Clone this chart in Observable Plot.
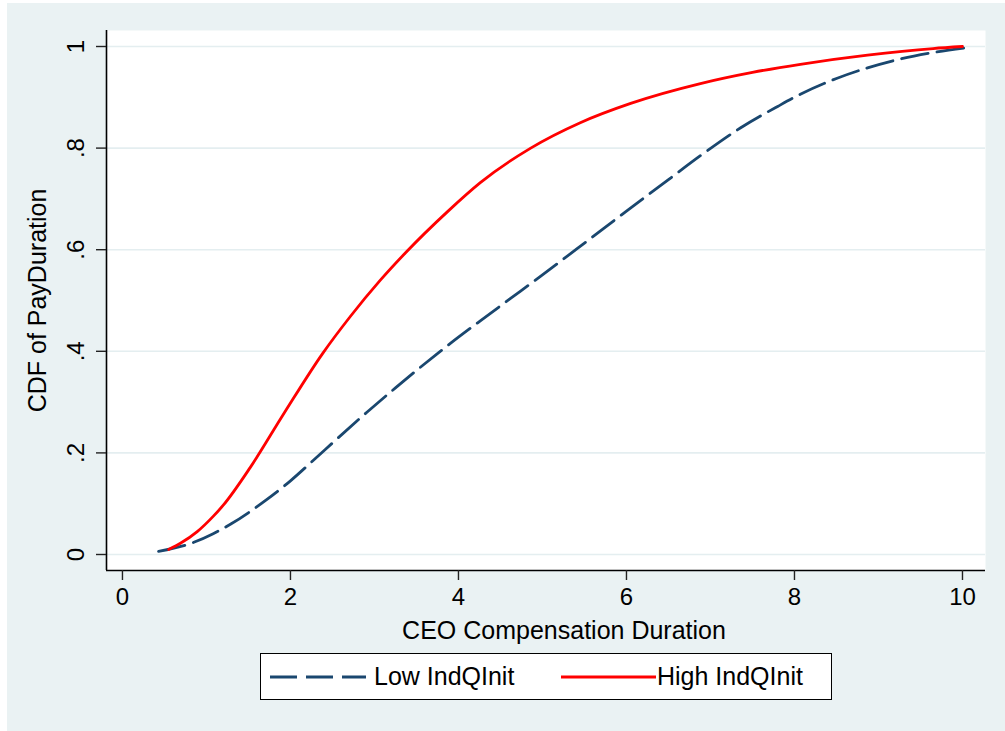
<!DOCTYPE html>
<html><head><meta charset="utf-8">
<script src="https://cdn.jsdelivr.net/npm/d3@7"></script>
<script src="https://cdn.jsdelivr.net/npm/@observablehq/plot@0.6"></script>
<style>
html,body{margin:0;padding:0;background:#fff;}
#wrap{position:relative;width:1005px;height:731px;overflow:hidden;font-family:"Liberation Sans",Arial,sans-serif;}
#bg{position:absolute;left:7px;top:3px;right:0;bottom:0;background:#eaf2f3;}
#chart{position:absolute;left:0;top:0;}
#legend{position:absolute;left:260px;top:653px;width:570px;height:45px;border:1px solid #000;background:#fff;font-size:25px;}
#legend svg{position:absolute;left:0;top:0;}
#legend span{position:absolute;top:8px;white-space:nowrap;}
</style></head>
<body><div id="wrap"><div id="bg"></div><div id="chart"></div><div id="legend"></div></div>
<script>
// Data
const seriesNames = ["Low IndQInit", "High IndQInit"];
const lowX = [0.43, 0.85, 1.08, 1.29, 1.70, 2.0, 2.27, 2.57, 2.91, 3.25, 3.58, 3.9, 4.26, 4.62, 4.98, 5.5, 6.0, 6.5, 6.88, 7.36, 7.8, 8.07, 8.5, 8.87, 9.25, 9.65, 10.07];
const lowY = [0.006, 0.024, 0.041, 0.06, 0.106, 0.145, 0.185, 0.23, 0.28, 0.328, 0.373, 0.415, 0.46, 0.504, 0.548, 0.613, 0.676, 0.738, 0.785, 0.84, 0.882, 0.906, 0.937, 0.958, 0.975, 0.988, 0.998];
const highX = [0.55, 0.69, 0.89, 1.08, 1.2, 1.52, 1.92, 2.38, 2.71, 3.07, 3.37, 3.87, 4.26, 4.86, 5.45, 6.05, 6.88, 7.5, 8.07, 8.87, 9.65, 10.0];
const highY = [0.01, 0.022, 0.045, 0.075, 0.097, 0.171, 0.277, 0.395, 0.468, 0.54, 0.594, 0.675, 0.732, 0.8, 0.85, 0.888, 0.927, 0.949, 0.965, 0.983, 0.996, 1.0];
const xTicks = [0, 2, 4, 6, 8, 10];
const xTickLabels = ["0", "2", "4", "6", "8", "10"];
const yTicks = [0, 0.2, 0.4, 0.6, 0.8, 1];
const yTickLabels = ["0", ".2", ".4", ".6", ".8", "1"];
const xLabel = "CEO Compensation Duration";
const yLabel = "CDF of PayDuration";

const low = lowX.map((x, i) => ({x, y: lowY[i]}));
const high = highX.map((x, i) => ({x, y: highY[i]}));
const xDomain = [-0.19, 10.274];
const yDomain = [-0.0315, 1.0315];
const navy = "#1a476f", red = "#ff0000";
const font = "Liberation Sans, Arial, sans-serif";

const chart = Plot.plot({
  width: 1005, height: 731,
  marginLeft: 106, marginRight: 20, marginTop: 30, marginBottom: 161,
  style: {background: "transparent", fontFamily: font, fontSize: "24px", color: "#000"},
  x: {domain: xDomain},
  y: {domain: yDomain},
  marks: [
    Plot.frame({fill: "white", stroke: "none"}),
    Plot.gridY(yTicks, {stroke: "#e4eef0", strokeOpacity: 1, strokeWidth: 1.6}),
    Plot.ruleX([xDomain[0]], {stroke: "#000", strokeWidth: 1.6}),
    Plot.ruleY([yDomain[0]], {stroke: "#000", strokeWidth: 1.6}),
    Plot.axisX({ticks: xTicks, tickSize: 10, tickPadding: 7, strokeWidth: 1.4, stroke: "#222",
      tickFormat: d => xTickLabels[xTicks.indexOf(d)], fontSize: 24,
      label: null}),
    Plot.text([xLabel], {frameAnchor: "bottom", dx: 18, dy: 60, lineAnchor: "middle", fontSize: 25, fill: "#000"}),
    Plot.axisY({ticks: yTicks, tickSize: 10, tickPadding: 13, tickRotate: -90, strokeWidth: 1.4, stroke: "#222",
      tickFormat: d => yTickLabels[yTicks.indexOf(d)], fontSize: 24,
      label: null}),
    Plot.axisY({ticks: [], label: yLabel, labelAnchor: "center", labelOffset: 78, labelArrow: "none", fontSize: 25}),
    Plot.line(low, {x: "x", y: "y", stroke: navy, strokeWidth: 2.8, strokeDasharray: "27,9", curve: "monotone-x"}),
    Plot.line(high, {x: "x", y: "y", stroke: red, strokeWidth: 2.8, curve: "monotone-x"})
  ]
});
document.getElementById("chart").appendChild(chart);

// Legend
const leg = document.getElementById("legend");
leg.innerHTML = `<svg width="570" height="45">
  <line x1="9" x2="105" y1="23" y2="23" stroke="${navy}" stroke-width="2.8" stroke-dasharray="27,9"/>
  <line x1="300" x2="395" y1="23" y2="23" stroke="${red}" stroke-width="2.8"/>
</svg><span style="left:113px">${seriesNames[0]}</span><span style="left:396px">${seriesNames[1]}</span>`;
</script>
</body></html>
